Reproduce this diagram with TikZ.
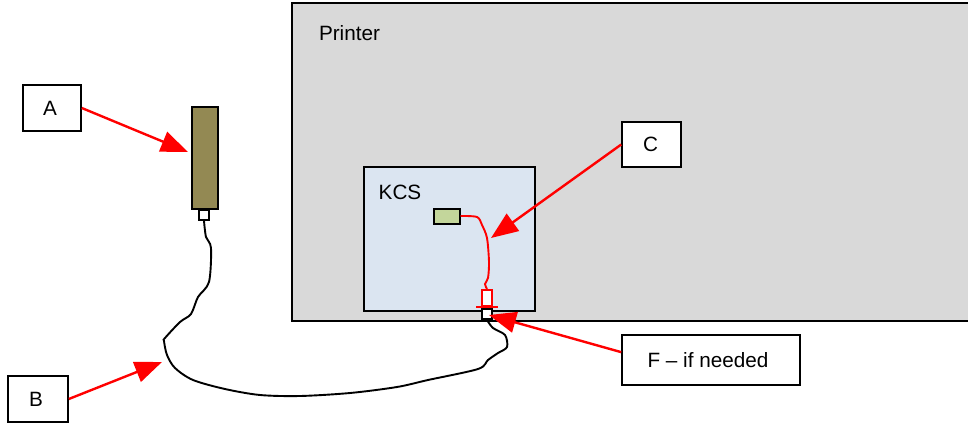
\documentclass[tikz,border=0pt]{standalone}
\usepackage{fontspec}
\setmainfont{Liberation Sans}
\usetikzlibrary{arrows.meta}
\definecolor{printergray}{HTML}{D9D9D9}
\definecolor{kcsblue}{HTML}{DBE5F1}
\definecolor{readerolive}{HTML}{938953}
\definecolor{boardgreen}{HTML}{C3D69B}
\tikzset{
  callout/.style={rectangle,draw=black,fill=white,line width=1.6pt,font=\fontsize{20.7}{24}\selectfont,inner sep=0pt},
  part/.style={rectangle,draw=black,line width=2pt,inner sep=0pt},
  title/.style={font=\fontsize{20.7}{24}\selectfont,inner sep=0pt},
  wire/.style={line width=1.9pt},
  pointer/.style={-{Triangle[length=27pt,width=21pt]},red,line width=2.4pt}
}
\begin{document}
\begin{tikzpicture}[x=1pt,y=-1pt]
\useasboundingbox (0,0) rectangle (968,423);
\node (printer) at (632,162)[part,fill=printergray,minimum width=680pt,minimum height=318pt]{};
\node (kcs) at (449.5,239)[part,fill=kcsblue,minimum width=171pt,minimum height=144pt]{};
\node (printerlabel) at (349.5,33.5)[title]{Printer};
\node (kcslabel) at (400,192)[title]{KCS};

\node (reader) at (205,158)[part,fill=readerolive,minimum width=26pt,minimum height=102pt]{};
\node (readerplug) at (204,215)[part,fill=white,minimum width=10pt,minimum height=10pt]{};
\node (board) at (446.5,216)[part,fill=boardgreen,minimum width=26pt,minimum height=15pt]{};
\node (kcsplug) at (487,298)[part,draw=red,fill=white,minimum width=10pt,minimum height=16pt]{};
\node (kcssocket) at (487,314)[part,fill=white,minimum width=10pt,minimum height=10pt]{};
\coordinate (flangeL) at (476,307);
\coordinate (flangeR) at (498,307);
\draw[red,line width=1.6pt](flangeL)--(flangeR);

\node (a) at (52,108)[callout,minimum width=58pt,minimum height=46pt]{\raisebox{-1pt}{\hspace{-4pt}A}};
\node (b) at (38,399)[callout,minimum width=60pt,minimum height=46pt]{\raisebox{-1pt}{\hspace{-4pt}B}};
\node (c) at (651.5,144.5)[callout,minimum width=59pt,minimum height=45pt]{\raisebox{-1pt}{\hspace{-2pt}C}};
\node (f) at (711,360)[callout,minimum width=178pt,minimum height=50pt]{\raisebox{-1pt}{\hspace{-6pt}F – if needed}};

\draw[wire,red] plot[smooth] coordinates {(board.east) (477,217) (482,225) (487,238) (489,262) (488,278) (485,284) (kcsplug.north)};
\draw[wire] plot[smooth] coordinates {(readerplug.south) (206,237) (211,248) (209,282) (198,297) (191,314) (180,322) (165,338) (164,341) (167,355) (175,368) (193,380) (225,389) (260,395) (300,396) (350,393) (397,387) (428,380) (478,369) (488,360) (498,353) (507,347) (505,335) (493,328) (kcssocket.south)};

\coordinate (atip) at (188,152);
\coordinate (btip) at (162,362);
\coordinate (ctip) at (491,238);
\coordinate (ftip) at (489,315);
\draw[pointer](a.east)--(atip);
\draw[pointer](b.east)--(btip);
\draw[pointer](c.west)--(ctip);
\draw[pointer](f.175)--(ftip);
\end{tikzpicture}
\end{document}
